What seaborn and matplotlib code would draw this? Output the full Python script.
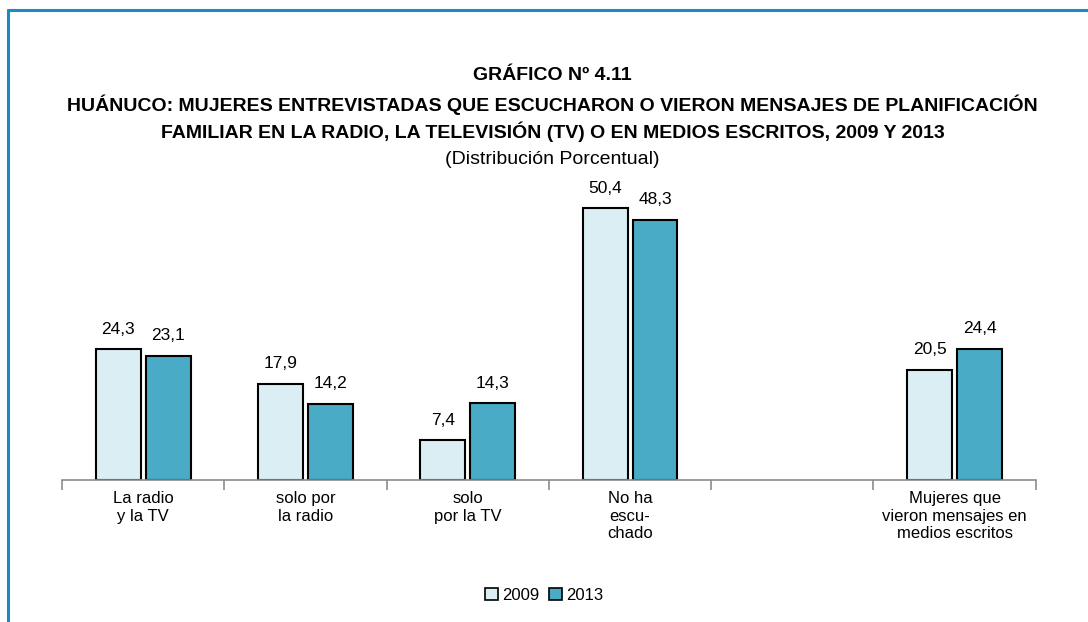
import matplotlib
matplotlib.use('Agg')
import matplotlib.pyplot as plt
import pandas as pd
import numpy as np
import seaborn as sb
from matplotlib.lines import Line2D

categorias = ['La radio\ny la TV', 'solo por\nla radio', 'solo\npor la TV',
              'No ha\nescu-\nchado', ' ', 'Mujeres que\nvieron mensajes en\nmedios escritos']
v2009 = [24.3, 17.9, 7.4, 50.4, np.nan, 20.5]
v2013 = [23.1, 14.2, 14.3, 48.3, np.nan, 24.4]
anios = ['2009', '2013']

df = pd.DataFrame({
    'cat': categorias * 2,
    'anio': ['2009'] * 6 + ['2013'] * 6,
    'valor': v2009 + v2013,
})

sb.set_style('white')
plt.rcParams['font.family'] = ['Liberation Sans', 'DejaVu Sans']
plt.rcParams['text.color'] = 'black'
plt.rcParams['xtick.color'] = 'black'

fig = plt.figure(figsize=(10.88, 6.22), dpi=100)
ax = fig.add_axes([0.057, 0.228, 0.895, 0.52])

colores = {'2009': '#DAEEF3', '2013': '#4AABC6'}
sb.barplot(data=df, x='cat', y='valor', hue='anio', order=categorias, hue_order=anios,
           palette=colores, saturation=1, width=0.615, gap=0.1, edgecolor='black', linewidth=1.5,
           legend=False, ax=ax, errorbar=None)

for cont in ax.containers:
    labels = ['' if np.isnan(v) else f'{v:.1f}'.replace('.', ',') for v in cont.datavalues]
    ax.bar_label(cont, labels=labels, padding=9, fontsize=12.5, color='black')

ax.set_xlim(-0.5, 5.5)
ax.set_ylim(0, 60)
ax.set_xlabel('')
ax.set_ylabel('')
ax.set_yticks([])
for s in ['top', 'right', 'left']:
    ax.spines[s].set_visible(False)
ax.spines['bottom'].set_color('#8C8C8C')
ax.spines['bottom'].set_linewidth(1.2)
ax.set_xticks(range(6))
ax.set_xticklabels(categorias, fontsize=12, linespacing=1.2, color='black')
ax.set_xticks(np.arange(-0.5, 6, 1), minor=True)
ax.tick_params(axis='x', which='major', bottom=False, length=0, pad=8)
ax.tick_params(axis='x', which='minor', bottom=True, length=7, width=1.2, color='#8C8C8C', direction='out')

# leyenda
handles = [plt.Rectangle((0, 0), 1, 1, facecolor=colores[a], edgecolor='black', linewidth=1.2) for a in anios]
fig.legend(handles, anios, loc='center', bbox_to_anchor=(0.5, 0.043), ncol=2, frameon=False,
           fontsize=12, handlelength=0.8, handleheight=0.8, handletextpad=0.2, columnspacing=0.6)

# titulos
xc = 0.508
fig.text(xc, 0.878, 'GRÁFICO Nº 4.11', ha='center', va='center', fontsize=14, fontweight='bold')
fig.text(xc, 0.831, 'HUÁNUCO: MUJERES ENTREVISTADAS QUE ESCUCHARON O VIERON MENSAJES DE PLANIFICACIÓN',
         ha='center', va='center', fontsize=14, fontweight='bold')
fig.text(xc, 0.788, 'FAMILIAR EN LA RADIO, LA TELEVISIÓN (TV) O EN MEDIOS ESCRITOS, 2009 Y 2013',
         ha='center', va='center', fontsize=14, fontweight='bold')
fig.text(xc, 0.743, '(Distribución Porcentual)', ha='center', va='center', fontsize=14)

# marco
azul = '#1A8BC8'
fig.add_artist(Line2D([0.0074, 1.0], [0.984, 0.984], color=azul, linewidth=2.2, transform=fig.transFigure))
fig.add_artist(Line2D([0.0074, 0.0074], [0.0, 0.984], color=azul, linewidth=2.2, transform=fig.transFigure))

fig.savefig('out.png', dpi=100)
